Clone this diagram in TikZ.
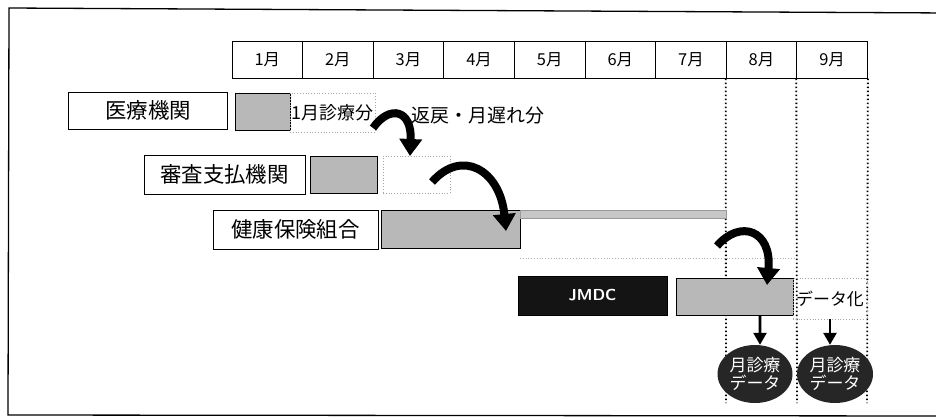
\documentclass[tikz,border=0pt]{standalone}
\usepackage{fontspec}
\setmainfont{Noto Sans CJK JP}
\usetikzlibrary{arrows.meta,shapes.geometric}
\begin{document}
\begin{tikzpicture}[x=1bp,y=-1bp,
  monthbox/.style={draw,line width=1bp,minimum width=70.6bp,minimum height=37bp,inner sep=0pt,font=\fontsize{16.5}{16.5}\selectfont},
  labelbox/.style={draw,line width=1bp,inner sep=0pt,font=\fontsize{21.5}{21.5}\selectfont},
  graybox/.style={draw,line width=0.8bp,fill=black!28,inner sep=0pt},
  faintbox/.style={draw=black!35,dotted,line width=0.8bp,inner sep=0pt},
  vdot/.style={line width=1.8bp,dash pattern=on 1.6bp off 2.4bp},
  curvearr/.style={line width=8bp,-{Triangle[length=17bp,width=22bp]}},
  darr/.style={line width=2.6bp,-{Triangle[length=12bp,width=13bp]}},
  dataell/.style={ellipse,fill=black!85,inner sep=0pt,text=white,align=center,font=\fontsize{17}{18}\selectfont}
]
\useasboundingbox (0,0) rectangle (936,419);
\fill[white] (0,0) rectangle (936,419);
\clip (0,0) rectangle (936,419);
% outer frame
\draw[line width=1.3bp] (950,13) -- (9,8) -- (8,415) -- (950,416);
% months
\foreach \i in {1,...,9}
  \node[monthbox] (m\i) at ({232+70.6*(\i-0.5)},59.5) {{\i}月};
% dotted verticals
\coordinate (v1) at (726,403);
\coordinate (v2) at (797,403);
\coordinate (v3) at (867,403);
\draw[vdot] (m8.south west) -- (v1);
\draw[vdot] (m9.south west) -- (v2);
\draw[vdot] (m9.south east) -- (v3);
% row 1
\node[labelbox,minimum width=158bp,minimum height=37bp] (iryo) at (148,110.5) {医療機関};
\node[graybox,minimum width=55bp,minimum height=37bp] (g1) at (262.5,111.5) {};
\node[faintbox,minimum width=85bp,minimum height=39bp,font=\fontsize{18}{18}\selectfont] (t1) at (332.5,112.5) {1月診療分};
\node[font=\fontsize{19}{19}\selectfont,inner sep=0pt] (henrei) at (478,116) {返戻・月遅れ分};
% row 2
\node[labelbox,minimum width=161bp,minimum height=39bp] (shinsa) at (224.5,174.5) {審査支払機関};
\node[graybox,minimum width=67bp,minimum height=37bp] (g2) at (343.5,174.5) {};
\node[faintbox,minimum width=67bp,minimum height=37bp] (w2) at (416.5,174.5) {};
% row 3
\node[labelbox,minimum width=165bp,minimum height=39bp] (kenpo) at (295.5,229.5) {健康保険組合};
\node[graybox,minimum width=139bp,minimum height=38bp] (g3) at (450.5,229) {};
\node[draw=black!40,line width=0.6bp,fill=black!22,minimum width=206bp,minimum height=8bp,inner sep=0pt] (strip) at (623,214) {};
\coordinate (f1) at (520,258);
\coordinate (f2) at (795,258);
\draw[black!30,dotted,line width=0.8bp] (f1) -- (f2);
% row 4
\node[draw,fill=black!92,text=white,minimum width=149bp,minimum height=39bp,inner sep=0pt,font=\sffamily\bfseries\fontsize{16}{16}\selectfont] (jmdc) at (592.5,295.5) {JMDC};
\node[graybox,minimum width=117bp,minimum height=37bp] (g4) at (734.5,296.5) {};
\node[faintbox,minimum width=74bp,minimum height=41bp,font=\fontsize{17}{17}\selectfont] (dk) at (830,298.5) {データ化};
% ellipses
\node[dataell,minimum width=75bp,minimum height=58bp] (e1) at (755,374) {月診療\\データ};
\node[dataell,minimum width=76bp,minimum height=58bp] (e2) at (835,374) {月診療\\データ};
% curved arrows
\coordinate (a1s) at (373,128);
\coordinate (a1e) at (410,156);
\draw[curvearr] (a1s) .. controls (390,104) and (412,110) .. (a1e);
\coordinate (a2s) at (432,182);
\coordinate (a2e) at (506,231);
\draw[curvearr] (a2s) .. controls (462,148) and (500,170) .. (a2e);
\coordinate (a3s) at (717,246);
\coordinate (a3e) at (767,285);
\draw[curvearr] (a3s) .. controls (740,219) and (772,230) .. (a3e);
% down arrows
\draw[darr] ([xshift=25.5bp]g4.south) -- ([xshift=5bp]e1.north);
\draw[darr] (dk.south) -- (dk.south |- e2.north);
\end{tikzpicture}
\end{document}
